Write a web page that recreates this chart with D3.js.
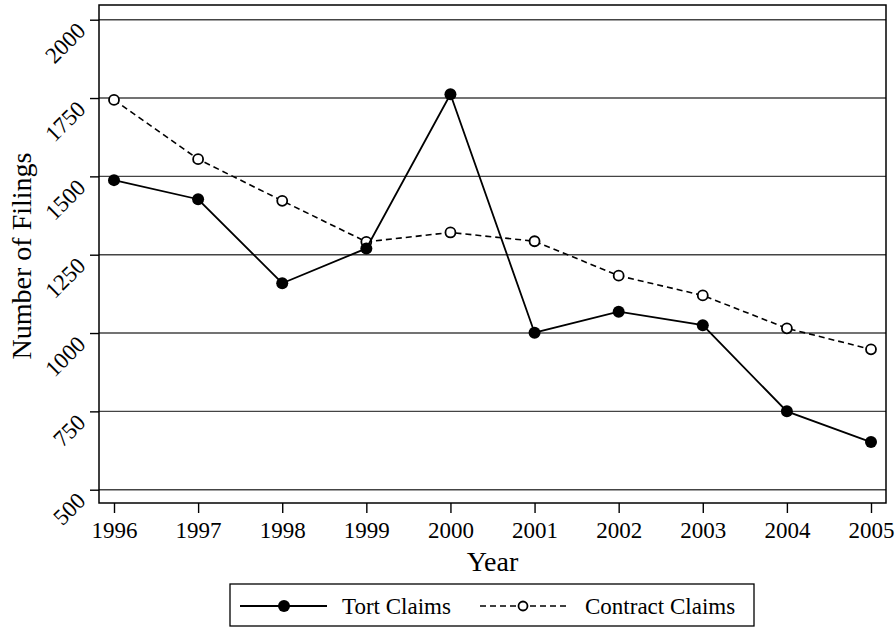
<!DOCTYPE html>
<html><head><meta charset="utf-8">
<script src="https://cdn.jsdelivr.net/npm/d3@7"></script>
<style>body{margin:0;background:#fff}svg{display:block}text{font-family:"Liberation Serif","Times New Roman",serif;fill:#000}</style>
</head><body>
<svg id="c" width="896" height="628"></svg>
<script>
const years = [1996,1997,1998,1999,2000,2001,2002,2003,2004,2005];
const tortClaims = [1488,1427,1159,1270,1762,1001,1068,1025,750,652];
const contractClaims = [1744,1555,1422,1291,1321,1293,1183,1120,1015,948];
const yTicks = [500,750,1000,1250,1500,1750,2000];
const seriesNames = ["Tort Claims","Contract Claims"];

const svg = d3.select("#c");
const frame = {l:99, r:886, t:5, b:503};
const x = d3.scaleLinear().domain([1996,2005]).range([114,871]);
const y = d3.scaleLinear().domain([500,2000]).range([489.7,19.7]);

svg.append("g").selectAll("line").data(yTicks).join("line")
  .attr("x1",frame.l).attr("x2",frame.r)
  .attr("y1",d=>y(d)).attr("y2",d=>y(d))
  .attr("stroke","#444").attr("stroke-width",1.4);

svg.append("rect").attr("x",frame.l).attr("y",frame.t)
  .attr("width",frame.r-frame.l).attr("height",frame.b-frame.t)
  .attr("fill","none").attr("stroke","#000").attr("stroke-width",1.5);

const ya = svg.append("g").attr("transform",`translate(${frame.l},0)`)
  .call(d3.axisLeft(y).tickValues(yTicks).tickSize(9).tickFormat(d3.format("d")));
ya.select(".domain").remove();
ya.selectAll(".tick line").attr("stroke","#000").attr("stroke-width",1.4);
ya.selectAll(".tick text").attr("font-size",23)
  .attr("text-anchor","end").attr("x",0).attr("dy",0)
  .attr("transform","translate(-12,12) rotate(-45)");

const xa = svg.append("g").attr("transform",`translate(0,${frame.b})`)
  .call(d3.axisBottom(x).tickValues(years).tickSize(10).tickFormat(d3.format("d")));
xa.select(".domain").remove();
xa.selectAll(".tick line").attr("stroke","#000").attr("stroke-width",1.4);
xa.selectAll(".tick text").attr("font-size",23).attr("y",19).attr("dy","0.71em");

svg.append("text").attr("x",(frame.l+frame.r)/2).attr("y",571).attr("text-anchor","middle")
  .attr("font-size",28).text("Year");
svg.append("text").attr("transform","translate(31,256) rotate(-90)").attr("text-anchor","middle")
  .attr("font-size",28).text("Number of Filings");

const line = d3.line().x((d,i)=>x(years[i])).y(d=>y(d));

svg.append("path").datum(contractClaims).attr("d",line).attr("fill","none")
  .attr("stroke","#000").attr("stroke-width",1.6).attr("stroke-dasharray","6,4");
svg.append("g").selectAll("circle").data(contractClaims).join("circle")
  .attr("cx",(d,i)=>x(years[i])).attr("cy",d=>y(d)).attr("r",5)
  .attr("fill","#fff").attr("stroke","#000").attr("stroke-width",1.8);

svg.append("path").datum(tortClaims).attr("d",line).attr("fill","none")
  .attr("stroke","#000").attr("stroke-width",1.8);
svg.append("g").selectAll("circle").data(tortClaims).join("circle")
  .attr("cx",(d,i)=>x(years[i])).attr("cy",d=>y(d)).attr("r",6)
  .attr("fill","#000");

const lg = svg.append("g");
lg.append("rect").attr("x",230).attr("y",584).attr("width",524).attr("height",42)
  .attr("fill","#fff").attr("stroke","#000").attr("stroke-width",1.3);
lg.append("line").attr("x1",240).attr("x2",327).attr("y1",606).attr("y2",606)
  .attr("stroke","#000").attr("stroke-width",1.8);
lg.append("circle").attr("cx",284).attr("cy",606).attr("r",6).attr("fill","#000");
lg.append("text").attr("x",342).attr("y",614).attr("font-size",23).text(seriesNames[0]);
lg.append("line").attr("x1",480).attr("x2",570).attr("y1",606).attr("y2",606)
  .attr("stroke","#000").attr("stroke-width",1.6).attr("stroke-dasharray","6,4");
lg.append("circle").attr("cx",523).attr("cy",606).attr("r",4.5)
  .attr("fill","#fff").attr("stroke","#000").attr("stroke-width",1.8);
lg.append("text").attr("x",585).attr("y",614).attr("font-size",23).text(seriesNames[1]);
</script>
</body></html>
